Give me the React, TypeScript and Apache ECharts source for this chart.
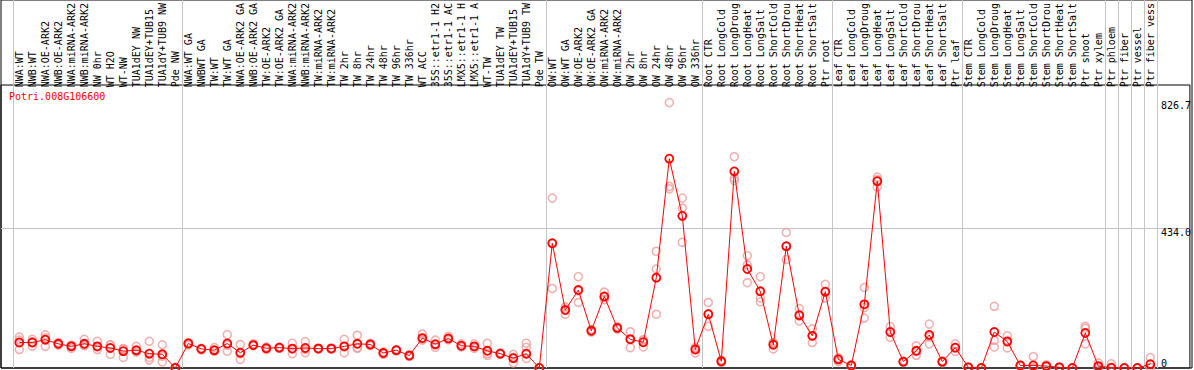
import React, { useEffect, useRef } from "react";
import * as echarts from "echarts";

const chartTitle = "Potri.008G106600";

// group sizes (vertical separators are drawn at each group's start)
const groupSizes = [13, 28, 12, 10, 10, 11, 1, 1, 1, 1];

const categories = [
  "NWA:WT", "NWB:WT", "NWA:OE-ARK2", "NWB:OE-ARK2", "NWA:miRNA-ARK2", "NWB:miRNA-ARK2", "NW 0hr", "WT H2O", "WT-NW", "TUA1dEY NW", "TUA1dEY+TUB15", "TUA1dY+TUB9 NW", "Pde NW",
  "NWA:WT GA", "NWBWT GA", "TW:WT", "TW:WT GA", "NWA:OE-ARK2 GA", "NWB:OE-ARK2 GA", "TW:OE-ARK2", "TW:OE-ARK2 GA", "NWA:miRNA-ARK2", "NWB:miRNA-ARK2", "TW:miRNA-ARK2", "TW:miRNA-ARK2", "TW 2hr", "TW 8hr", "TW 24hr", "TW 48hr", "TW 96hr", "TW 336hr", "WT ACC", "35S::etr1-1 H2", "35S::etr1-1 AC", "LMX5::etr1-1 H", "LMX5::etr1-1 A", "WT-TW", "TUA1dEY TW", "TUA1dEY+TUB15", "TUA1dY+TUB9 TW", "Pde TW",
  "OW:WT", "OW:WT GA", "OW:OE-ARK2", "OW:OE-ARK2 GA", "OW:miRNA-ARK2", "OW:miRNA-ARK2", "OW 2hr", "OW 8hr", "OW 24hr", "OW 48hr", "OW 96hr", "OW 336hr",
  "Root CTR", "Root LongCold", "Root LongDroug", "Root LongHeat", "Root LongSalt", "Root ShortCold", "Root ShortDrou", "Root ShortHeat", "Root ShortSalt", "Ptr root",
  "Leaf CTR", "Leaf LongCold", "Leaf LongDroug", "Leaf LongHeat", "Leaf LongSalt", "Leaf ShortCold", "Leaf ShortDrou", "Leaf ShortHeat", "Leaf ShortSalt", "Ptr leaf",
  "Stem CTR", "Stem LongCold", "Stem LongDroug", "Stem LongHeat", "Stem LongSalt", "Stem ShortCold", "Stem ShortDrou", "Stem ShortHeat", "Stem ShortSalt", "Ptr shoot", "Ptr xylem",
  "Ptr phloem", "Ptr fiber", "Ptr vessel", "Ptr fiber vess",
];

const means = [
  80, 80, 89, 76, 68, 76, 68, 63, 53, 56, 45, 43, 0,
  77, 60, 56, 77, 48, 72, 62, 64, 61, 63, 61, 61, 68, 76, 74, 47, 56, 39, 94, 75, 93, 70, 68, 54, 45, 31, 45, 0,
  392, 182, 245, 117, 225, 126, 90, 81, 284, 658, 478, 58,
  169, 21, 618, 311, 241, 73, 383, 166, 101, 240,
  27, 8, 200, 587, 113, 20, 54, 104, 20, 64,
  2, 0, 113, 83, 8, 8, 6, 2, 0, 110, 6,
  1, 0, 0, 12,
];

const rep1 = [
  97, 90, 104, 80, 72, 90, 84, 73, 61, 68, 84, 73, 0,
  80, 62, 64, 105, 74, 76, 66, 66, 78, 83, 63, 63, 90, 103, 78, 50, 58, 42, 107, 88, 100, 76, 76, 78, 47, 43, 78, 0,
  534, 192, 287, 121, 239, 130, 114, 89, 367, 834, 534, 62,
  206, 25, 664, 353, 287, 80, 426, 187, 123, 263,
  32, 10, 253, 600, 130, 22, 70, 138, 22, 76,
  3, 0, 194, 101, 9, 36, 10, 3, 0, 131, 16,
  13, 0, 0, 33,
];

const rep2 = [
  58, 69, 68, 72, 62, 70, 58, 43, 33, 50, 25, 19, 0,
  72, 57, 52, 53, 27, 70, 58, 62, 45, 48, 59, 59, 48, 62, 70, 43, 54, 36, 88, 65, 88, 66, 62, 46, 43, 16, 65, 0,
  250, 169, 206, 113, 215, 122, 64, 66, 311, 571, 503, 47,
  131, 18, 597, 324, 208, 60, 341, 148, 80, 220,
  20, 5, 157, 569, 97, 18, 40, 76, 17, 52,
  1, 0, 87, 63, 7, 0, 4, 1, 0, 125, 2,
  0, 0, 0, 2,
];

const rep3 = [
  88, 82, 95, 76, 70, 72, 66, 73, 60, 52, 33, 37, 2,
  79, 60, 55, 72, 45, 70, 62, 64, 60, 58, 61, 61, 66, 64, 74, 47, 56, 39, 88, 72, 91, 68, 66, 40, 45, 34, 30, 1,
  392, 185, 242, 118, 222, 126, 92, 88, 169, 563, 395, 65,
  170, 20, 589, 268, 220, 79, 382, 163, 100, 238,
  29, 9, 190, 592, 113, 19, 52, 98, 20, 64,
  2, 1, 66, 86, 8, 0, 5, 2, 0, 76, 1,
  0, 0, 0, 2,
];

const yMax = 876;
const yLabelValues = [434, 826.7];
const yGridValues = [434];
const yZeroLabel = [0];

export default function App() {
  const ref = useRef<HTMLDivElement>(null);

  useEffect(() => {
    const chart = echarts.init(ref.current as HTMLDivElement, undefined, { renderer: "svg" });
    const starts = new Set<number>();
    let acc = 0;
    groupSizes.forEach((s) => {
      starts.add(acc);
      acc += s;
    });
    const mono = "'DejaVu Sans Mono', monospace";
    const band = 13;
    const plotLeft = 12.8;
    const plotWidth = categories.length * band;
    const plotTop = 85;
    const plotHeight = 283;
    const replicateStyle = {
      color: "rgba(0,0,0,0)",
      borderColor: "#f09a9a",
      borderWidth: 1.5,
    };

    chart.setOption({
      animation: false,
      backgroundColor: "#ffffff",
      title: {
        text: chartTitle,
        left: 9,
        top: 91,
        padding: 0,
        textStyle: { color: "#ff0000", fontFamily: mono, fontSize: 10, fontWeight: "normal" },
      },
      grid: [
        { left: plotLeft, width: plotWidth, top: plotTop, height: plotHeight },
        { left: plotLeft, width: plotWidth, top: 0, height: 368 },
        { left: 1, width: 1191, top: plotTop, height: plotHeight, show: true, borderColor: "#000", borderWidth: 1, backgroundColor: "rgba(0,0,0,0)" },
        { left: 1, width: 1191, top: -1, height: 369, show: true, borderColor: "#000", borderWidth: 1, backgroundColor: "rgba(0,0,0,0)" },
      ],
      xAxis: [
        {
          gridIndex: 0,
          type: "category",
          data: categories,
          position: "top",
          boundaryGap: true,
          axisLine: { show: false },
          axisTick: { show: false },
          splitLine: { show: false },
          axisLabel: { interval: 0, rotate: 90, margin: 2, fontFamily: mono, fontSize: 10, color: "#000" },
        },
        {
          gridIndex: 1,
          type: "category",
          data: categories,
          boundaryGap: true,
          axisLine: { show: false },
          axisTick: { show: false },
          axisLabel: { show: false },
          splitLine: {
            show: true,
            interval: (i: number) => starts.has(i),
            lineStyle: { color: "#c4c4c4", width: 1 },
          },
        },
        { gridIndex: 2, type: "value", min: 0, max: 1, show: false },
        { gridIndex: 3, type: "value", min: 0, max: 1, show: false },
      ],
      yAxis: [
        { gridIndex: 0, type: "value", min: 0, max: yMax, show: false },
        { gridIndex: 1, type: "value", min: 0, max: 1, show: false },
        {
          gridIndex: 2,
          type: "value",
          min: 0,
          max: yMax,
          position: "right",
          axisLine: { show: false },
          axisTick: { show: false, customValues: yGridValues },
          splitLine: { show: true, lineStyle: { color: "#c4c4c4", width: 1 } },
          axisLabel: {
            customValues: yLabelValues,
            inside: true,
            align: "left",
            verticalAlign: "top",
            margin: 29,
            formatter: (v: number) => v.toFixed(1),
            fontFamily: mono,
            fontSize: 10,
            color: "#000",
          },
        },
        {
          gridIndex: 2,
          type: "value",
          min: 0,
          max: yMax,
          position: "right",
          axisLine: { show: false },
          axisTick: { show: false },
          splitLine: { show: false },
          axisLabel: {
            customValues: yZeroLabel,
            inside: true,
            align: "left",
            verticalAlign: "bottom",
            margin: 29,
            formatter: (v: number) => String(v),
            fontFamily: mono,
            fontSize: 10,
            color: "#000",
          },
        },
        { gridIndex: 3, type: "value", min: 0, max: 1, show: false },
      ],
      series: [
        { type: "scatter", xAxisIndex: 0, yAxisIndex: 0, data: rep1, symbol: "circle", symbolSize: 8, itemStyle: replicateStyle, z: 2 },
        { type: "scatter", xAxisIndex: 0, yAxisIndex: 0, data: rep2, symbol: "circle", symbolSize: 8, itemStyle: replicateStyle, z: 2 },
        { type: "scatter", xAxisIndex: 0, yAxisIndex: 0, data: rep3, symbol: "circle", symbolSize: 8, itemStyle: replicateStyle, z: 2 },
        {
          type: "line",
          xAxisIndex: 0,
          yAxisIndex: 0,
          data: means,
          symbol: "circle",
          symbolSize: 8,
          showSymbol: true,
          showAllSymbol: true,
          itemStyle: { color: "rgba(0,0,0,0)", borderColor: "#ff0000", borderWidth: 1.8 },
          lineStyle: { color: "#ff0000", width: 1 },
          z: 3,
        },
      ],
    });

    return () => chart.dispose();
  }, []);

  return <div ref={ref} style={{ position: "fixed", left: 0, top: 0, width: 1194, height: 370 }} />;
}
